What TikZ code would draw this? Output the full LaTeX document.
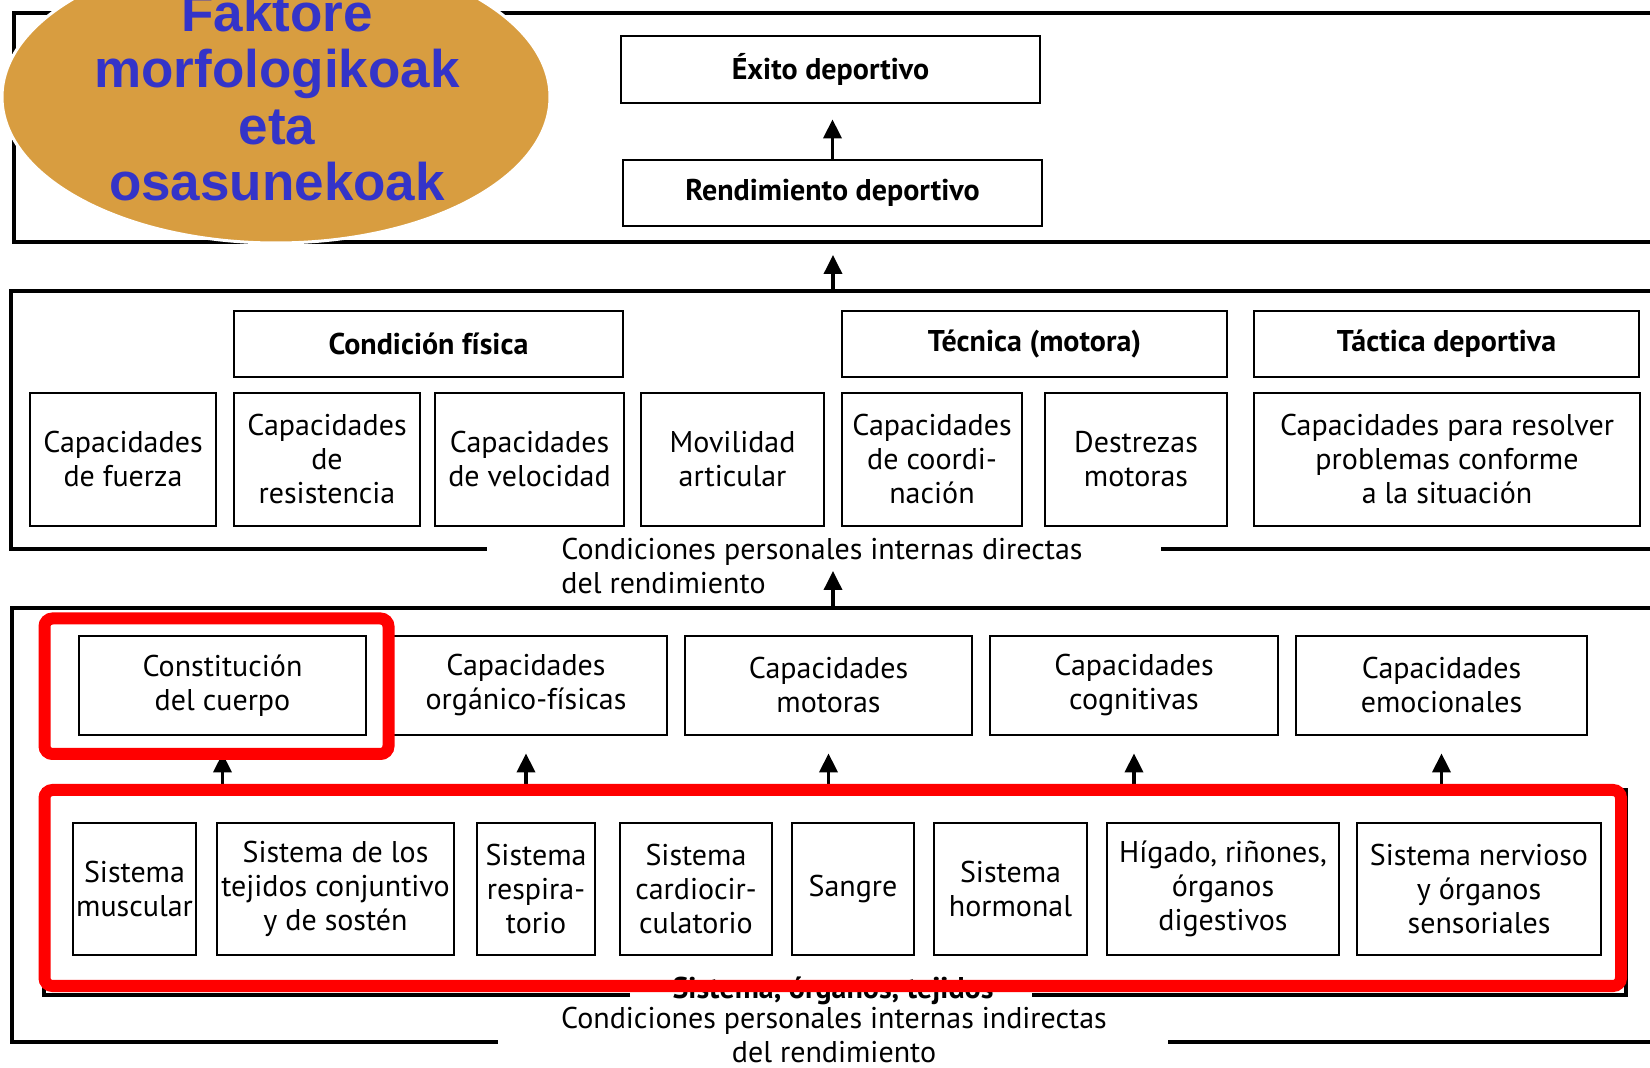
\documentclass[tikz,border=0pt]{standalone}
\usepackage{fontspec}
\setmainfont{PT Sans}
\newfontfamily\ellfont{Liberation Sans}[BoldFont={Liberation Sans Bold}]
\usetikzlibrary{arrows.meta,shapes.geometric}
\definecolor{gold}{RGB}{216,157,64}
\definecolor{eblue}{RGB}{52,52,200}
\definecolor{redb}{RGB}{255,0,0}
\tikzset{
  txt/.style={font=\fontsize{15}{17}\selectfont},
  bx/.style={draw, line width=1.4pt, align=center, inner sep=0pt, txt},
  hd/.style={bx, font=\fontsize{15}{17}\selectfont\bfseries},
  bandline/.style={line width=2pt},
  arr/.style={line width=1.8pt, -{Triangle[length=9.5pt,width=9pt]}},
  redframe/.style={draw=redb, line width=6pt, rounded corners=4pt},
}
\begin{document}
\begin{tikzpicture}[x=0.5pt,y=-0.5pt]
\useasboundingbox (0,0) rectangle (1650,1068);
\clip (0,0) rectangle (1650,1068);
\fill[white] (0,0) rectangle (1650,1068);

% ---------- band lines ----------
\draw[bandline] (1650,13) -- (14,13) -- (14,242) -- (1650,242);
\draw[bandline] (1650,291) -- (11,291) -- (11,549) -- (487,549);
\draw[bandline] (1161,549) -- (1650,549);
\draw[bandline] (1650,608) -- (12,608) -- (12,1042) -- (498,1042);
\draw[bandline] (1168,1042) -- (1650,1042);

% ---------- band 1 ----------
\node[hd, minimum width=209.5pt, minimum height=33.5pt] (exito) at (830.5,69.5) {Éxito deportivo};
\node[hd, minimum width=209.5pt, minimum height=33pt] (rend) at (832.5,193) {Rendimiento deportivo};
\draw[arr, shorten >=7.5pt] (rend.north) -- (rend.north |- exito.south);

\coordinate (b1bot) at (833,242);
\coordinate (b2top) at (833,291);
\draw[arr, shorten >=6.5pt] (b2top) -- (b1bot);

% ---------- band 2 ----------
\node[hd, minimum width=194.5pt, minimum height=33pt] (cf) at (428.5,344) {Condición física};
\node[hd, minimum width=192.5pt, minimum height=33pt] (tec) at (1034.5,344) {Técnica (motora)};
\node[hd, minimum width=192.5pt, minimum height=33pt] (tac) at (1446.5,344) {Táctica deportiva};

\node[bx, minimum width=93pt, minimum height=66.5pt] (fuerza) at (123,459.5) {Capacidades\\de fuerza};
\node[bx, minimum width=93pt, minimum height=66.5pt] (resist) at (327,459.5) {Capacidades\\de\\resistencia};
\node[bx, minimum width=94.5pt, minimum height=66.5pt] (veloc) at (529.5,459.5) {Capacidades\\de velocidad};
\node[bx, minimum width=91.5pt, minimum height=66.5pt] (movil) at (732.5,459.5) {Movilidad\\articular};
\node[bx, minimum width=90pt, minimum height=66.5pt] (coord) at (932,459.5) {Capacidades\\de coordi-\\nación};
\node[bx, minimum width=91pt, minimum height=66.5pt] (destr) at (1136,459.5) {Destrezas\\motoras};
\node[bx, minimum width=193pt, minimum height=66.5pt] (resol) at (1447,459.5) {Capacidades para resolver\\problemas conforme\\a la situación};

\node[txt, align=left, anchor=west, inner sep=0pt] (dirtext) at (561,566) {Condiciones personales internas directas\\del rendimiento};

\coordinate (b3top) at (833,608);
\coordinate (b2txt) at (833,571);
\draw[arr] (b3top) -- (b2txt);

% ---------- band 3 ----------
\node[bx, minimum width=143.5pt, minimum height=49.5pt] (constit) at (222.5,685.5) {Constitución\\del cuerpo};
\node[bx, minimum width=141pt, minimum height=49.5pt] (organ) at (526,685.5) {Capacidades\\orgánico-físicas};
\node[bx, minimum width=143.5pt, minimum height=49.5pt] (motor) at (828.5,685.5) {Capacidades\\motoras};
\node[bx, minimum width=144pt, minimum height=49.5pt] (cognit) at (1134,685.5) {Capacidades\\cognitivas};
\node[bx, minimum width=145.5pt, minimum height=49.5pt] (emoc) at (1441.5,685.5) {Capacidades\\emocionales};

\node[bx, minimum width=61.5pt, minimum height=66pt] (musc) at (134.5,889) {Sistema\\muscular};
\node[bx, minimum width=118.5pt, minimum height=66pt] (tejid) at (335.5,889) {Sistema de los\\tejidos conjuntivo\\y de sostén};
\node[bx, minimum width=59pt, minimum height=66pt] (resp) at (536,889) {Sistema\\respira-\\torio};
\node[bx, minimum width=76pt, minimum height=66pt] (cardio) at (696,889) {Sistema\\cardiocir-\\culatorio};
\node[bx, minimum width=61pt, minimum height=66pt] (sangre) at (853,889) {Sangre};
\node[bx, minimum width=76.5pt, minimum height=66pt] (hormon) at (1010.5,889) {Sistema\\hormonal};
\node[bx, minimum width=116pt, minimum height=66pt] (higado) at (1223,889) {Hígado, riñones,\\órganos\\digestivos};
\node[bx, minimum width=122pt, minimum height=66pt] (nerv) at (1479,889) {Sistema nervioso\\y órganos\\sensoriales};

% inner systems box
\coordinate (sysTL) at (44,790);
\coordinate (sysTR) at (1626,790);
\coordinate (sysBL) at (44,995);
\coordinate (sysBR) at (1626,995);
\draw[line width=1.6pt] (630,995) -- (sysBL) -- (sysTL) -- (sysTR) -- (sysBR) -- (1032,995);
\node[txt, font=\fontsize{15}{17}\selectfont\bfseries, inner sep=0pt, anchor=base] (systext) at (833,999) {Sistema, órganos, tejidos};

\foreach \n in {constit,organ,motor,cognit,emoc}
  \draw[arr, shorten >=8.5pt] (sysTL -| \n.south) -- (\n.south);

\node[txt, align=center, inner sep=0pt] (indtext) at (834,1035) {Condiciones personales internas indirectas\\del rendimiento};

% red frames
\draw[redframe] (44.5,618.5) rectangle (388.5,754);
\draw[redframe] (44.5,790) rectangle (1621,986);

% ---------- ellipse ----------
\node[ellipse, draw=white, line width=1.5pt, fill=gold, minimum width=274pt, minimum height=146pt, inner sep=0pt] (ell) at (276,97) {};
\node[align=center, text=eblue, inner sep=0pt, font=\ellfont\bfseries\fontsize{26.5}{28.3}\selectfont] (elltext) at (277,97) {Faktore\\morfologikoak\\eta\\osasunekoak};
\end{tikzpicture}
\end{document}
